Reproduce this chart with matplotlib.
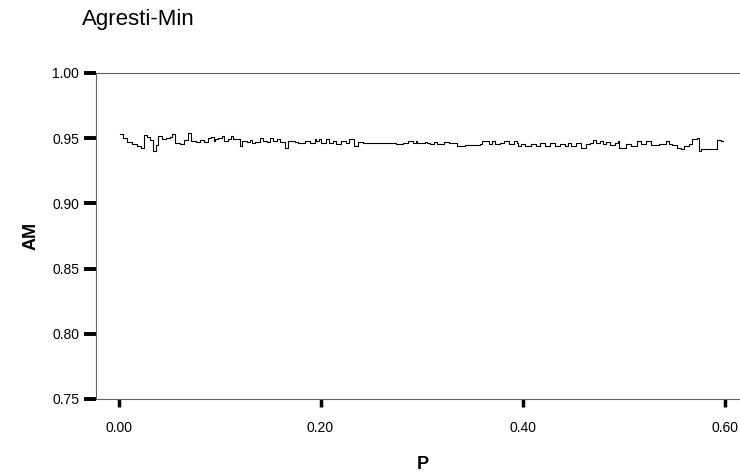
import matplotlib
matplotlib.use('Agg')
import matplotlib.pyplot as plt

plt.rcParams['font.family'] = ['Liberation Sans', 'DejaVu Sans']

# coverage of the Agresti-Min interval
p_vals = [0.0015, 0.0045, 0.0084, 0.0134, 0.0183, 0.0223, 0.0252, 0.0282, 0.0312, 0.0342,
          0.0371, 0.0391, 0.0431, 0.0470, 0.0510, 0.0530, 0.0560, 0.0609, 0.0649, 0.0688,
          0.0718, 0.0767, 0.0807, 0.0847, 0.0886, 0.0916, 0.0946,
          0.0955, 0.0985, 0.1022, 0.1045, 0.1084, 0.1114, 0.1129, 0.1183, 0.1203, 0.1220,
          0.1269, 0.1302, 0.1320, 0.1351, 0.1401, 0.1431, 0.1467, 0.1500, 0.1530, 0.1566,
          0.1599, 0.1649, 0.1678, 0.1748, 0.1777, 0.1847, 0.1896, 0.1946,
          0.1955, 0.1985, 0.2005, 0.2054, 0.2084, 0.2121, 0.2153, 0.2203, 0.2252, 0.2282,
          0.2332, 0.2368, 0.2418, 0.2480, 0.2579, 0.2649, 0.2748, 0.2814, 0.2863, 0.2913,
          0.2946,
          0.2955, 0.3035, 0.3054, 0.3084, 0.3124, 0.3153, 0.3220, 0.3269, 0.3351, 0.3431,
          0.3579, 0.3599, 0.3665, 0.3698, 0.3731, 0.3780, 0.3814, 0.3863, 0.3913, 0.3946,
          0.3955, 0.3988, 0.4022, 0.4084, 0.4134, 0.4170, 0.4220, 0.4269, 0.4319, 0.4369,
          0.4418, 0.4450, 0.4483, 0.4530, 0.4579, 0.4629, 0.4665, 0.4698, 0.4731, 0.4764,
          0.4797, 0.4830, 0.4863, 0.4913, 0.4946,
          0.4955, 0.5022, 0.5071, 0.5137, 0.5170, 0.5220, 0.5269, 0.5351, 0.5418, 0.5451,
          0.5484, 0.5533, 0.5566, 0.5599, 0.5649, 0.5681, 0.5731, 0.5748, 0.5764, 0.5929,
          0.5962, 0.5985]

am_vals = [0.9532, 0.9501, 0.9467, 0.9455, 0.9440, 0.9425, 0.9524, 0.9509, 0.9486, 0.9402,
           0.9448, 0.9517, 0.9494, 0.9498, 0.9509, 0.9532, 0.9463, 0.9455, 0.9486, 0.9540,
           0.9478, 0.9474, 0.9486, 0.9470, 0.9501, 0.9509, 0.9478,
           0.9492, 0.9504, 0.9517, 0.9478, 0.9496, 0.9517, 0.9492, 0.9494, 0.9440, 0.9478,
           0.9474, 0.9486, 0.9465, 0.9470, 0.9504, 0.9478, 0.9470, 0.9504, 0.9478, 0.9492,
           0.9470, 0.9427, 0.9478, 0.9474, 0.9465, 0.9478, 0.9465, 0.9492,
           0.9478, 0.9492, 0.9465, 0.9492, 0.9465, 0.9478, 0.9453, 0.9478, 0.9461, 0.9492,
           0.9440, 0.9470, 0.9466, 0.9461, 0.9465, 0.9461, 0.9458, 0.9465, 0.9478, 0.9461,
           0.9478,
           0.9461, 0.9470, 0.9465, 0.9453, 0.9470, 0.9453, 0.9470, 0.9461, 0.9440, 0.9446,
           0.9453, 0.9478, 0.9453, 0.9478, 0.9453, 0.9461, 0.9478, 0.9453, 0.9478, 0.9465,
           0.9440, 0.9453, 0.9440, 0.9453, 0.9440, 0.9465, 0.9440, 0.9465, 0.9440, 0.9453,
           0.9440, 0.9465, 0.9440, 0.9465, 0.9427, 0.9453, 0.9465, 0.9486, 0.9465, 0.9478,
           0.9453, 0.9470, 0.9446, 0.9461, 0.9478,
           0.9427, 0.9453, 0.9440, 0.9478, 0.9453, 0.9478, 0.9446, 0.9453, 0.9478, 0.9453,
           0.9446, 0.9427, 0.9415, 0.9440, 0.9453, 0.9492, 0.9504, 0.9402, 0.9415, 0.9486,
           0.9478, 0.9475]

x_ticks = [0.0, 0.2, 0.4, 0.6]
y_ticks = [0.75, 0.80, 0.85, 0.90, 0.95, 1.00]

fig = plt.figure(figsize=(7.4, 4.76), dpi=100)
ax = fig.add_axes([0.1297, 0.1618, 0.8703, 0.6849])

ax.plot(p_vals, am_vals, color='black', lw=0.8, drawstyle='steps-post')

ax.set_xlim(-0.0223, 0.6153)
ax.set_ylim(0.75, 1.00)
ax.set_xticks(x_ticks)
ax.set_xticklabels(['%.2f' % v for v in x_ticks])
ax.set_yticks(y_ticks)
ax.set_yticklabels(['%.2f' % v for v in y_ticks])

for s in ['left', 'bottom', 'top']:
    ax.spines[s].set_color('#606060')
    ax.spines[s].set_linewidth(0.8)
ax.spines['right'].set_visible(False)

ax.tick_params(axis='y', direction='out', length=9, width=2.8, color='black',
               labelsize=10, pad=3)
ax.tick_params(axis='x', direction='out', length=6, width=2.5, color='black',
               labelsize=10, pad=10)

ax.set_xlabel('P', fontsize=13, fontweight='bold')
ax.xaxis.set_label_coords(0.508, -0.175)
ax.set_ylabel('AM', fontsize=13, fontweight='bold')
ax.yaxis.set_label_coords(-0.088, 0.5)

fig.text(82 / 740, 1 - 20 / 476, 'Agresti-Min', fontsize=16, ha='left', va='center')

fig.savefig('out.png', dpi=100)
